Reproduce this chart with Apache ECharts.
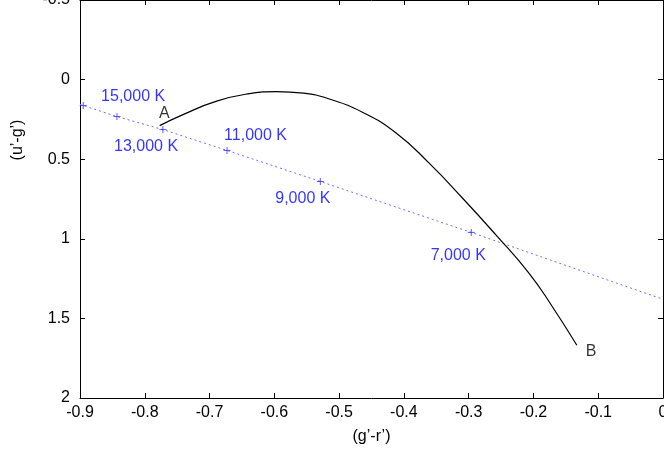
<!DOCTYPE html>
<html><head><meta charset="utf-8">
<script src="https://cdn.jsdelivr.net/npm/echarts@6/dist/echarts.min.js"></script>
<style>html,body{margin:0;padding:0;background:#fff}#c{width:664px;height:465px}</style>
</head><body><div id="c"></div>
<script>
// Black curve (A -> B)
const curveX = [-0.777, -0.741, -0.689, -0.638, -0.597, -0.555, -0.515, -0.464, -0.412, -0.361, -0.310, -0.258, -0.207, -0.171, -0.133];
const curveY = [0.289, 0.220, 0.135, 0.088, 0.075, 0.085, 0.122, 0.205, 0.335, 0.525, 0.742, 0.975, 1.215, 1.425, 1.669];
// Blue dotted line
const blueX = [-0.9, -0.895, -0.843, -0.772, -0.673, -0.529, -0.296, 0.0];
const blueY = [0.155, 0.163, 0.232, 0.314, 0.445, 0.640, 0.960, 1.380];
// Blue '+' markers
const markerX = [-0.895, -0.843, -0.772, -0.673, -0.529, -0.296];
const markerY = [0.163, 0.232, 0.314, 0.445, 0.640, 0.960];
// Temperature labels
const tempText = ['15,000 K', '13,000 K', '11,000 K', '9,000 K', '7,000 K'];
const tempX = [-0.818, -0.798, -0.629, -0.556, -0.316];
const tempY = [0.105, 0.420, 0.351, 0.746, 1.104];
// End labels
const endText = ['A', 'B'];
const endX = [-0.770, -0.111];
const endY = [0.211, 1.706];
// Axis ticks
const xMin = -0.9, xMax = 0, xStep = 0.1;
const yMin = -0.5, yMax = 2, yStep = 0.5;

const zip = (a, b) => a.map((v, i) => [v, b[i]]);
const FONT = 'Liberation Sans, Arial, Helvetica, sans-serif';
const chart = echarts.init(document.getElementById('c'));

const fmtX = v => { const r = Math.round(v * 10) / 10; return r === 0 ? '0' : String(r); };
const fmtY = v => { const r = Math.round(v * 10) / 10; return String(r); };

const baseAxis = () => ({
  axisLine: { show: true, onZero: false, lineStyle: { color: '#000', width: 1 } },
  axisTick: { show: true, inside: true, length: 5, lineStyle: { color: '#000' } },
  splitLine: { show: false },
});

chart.setOption({
  animation: false,
  backgroundColor: '#fff',
  grid: { left: 80, right: 1, top: 0, bottom: 67, containLabel: false, outerBoundsMode: 'none' },
  xAxis: [
    Object.assign(baseAxis(), {
      type: 'value', min: xMin, max: xMax, interval: xStep, position: 'bottom',
      axisLabel: { color: '#000', fontSize: 16, fontFamily: FONT, margin: 7, formatter: fmtX },
      name: '(g’-r’)', nameLocation: 'middle', nameGap: 31,
      nameTextStyle: { color: '#000', fontSize: 16, fontFamily: FONT }
    }),
    Object.assign(baseAxis(), {
      type: 'value', min: xMin, max: xMax, interval: xStep, position: 'top',
      axisLabel: { show: false }
    })
  ],
  yAxis: [
    Object.assign(baseAxis(), {
      type: 'value', min: yMin, max: yMax, interval: yStep, inverse: true, position: 'left',
      axisLabel: { color: '#000', fontSize: 16, fontFamily: FONT, margin: 10, formatter: fmtY }
    }),
    Object.assign(baseAxis(), {
      type: 'value', min: yMin, max: yMax, interval: yStep, inverse: true, position: 'right',
      axisLabel: { show: false }
    })
  ],
  graphic: [{
    type: 'text', x: 18, y: 140,
    rotation: Math.PI / 2,
    style: { text: '(u’-g’)', fill: '#000', font: '16px ' + FONT, textAlign: 'center', textVerticalAlign: 'middle' }
  }],
  series: [
    {
      type: 'line', data: zip(blueX, blueY), symbol: 'none', smooth: false,
      lineStyle: { color: '#6f6fff', width: 1, type: [2, 3] }, z: 2
    },
    {
      type: 'scatter', data: zip(markerX, markerY),
      symbol: 'path://M0,5L10,5M5,0L5,10', symbolSize: 7,
      itemStyle: { color: 'none', borderColor: '#3030ff', borderWidth: 1 }, z: 3
    },
    {
      type: 'line', data: zip(curveX, curveY), symbol: 'none', smooth: 0.5,
      lineStyle: { color: '#000', width: 1.2 }, z: 4
    },
    {
      type: 'scatter', data: tempText.map((t, i) => ({ value: [tempX[i], tempY[i]], name: t })),
      symbolSize: 1, itemStyle: { color: 'rgba(0,0,0,0)' },
      label: { show: true, position: 'inside', formatter: p => p.name, color: '#0000ff', fontSize: 16, fontFamily: FONT }, z: 5
    },
    {
      type: 'scatter', data: endText.map((t, i) => ({ value: [endX[i], endY[i]], name: t })),
      symbolSize: 1, itemStyle: { color: 'rgba(0,0,0,0)' },
      label: { show: true, position: 'inside', formatter: p => p.name, color: '#000', fontSize: 16, fontFamily: FONT }, z: 5
    }
  ]
});
</script>
</body></html>
